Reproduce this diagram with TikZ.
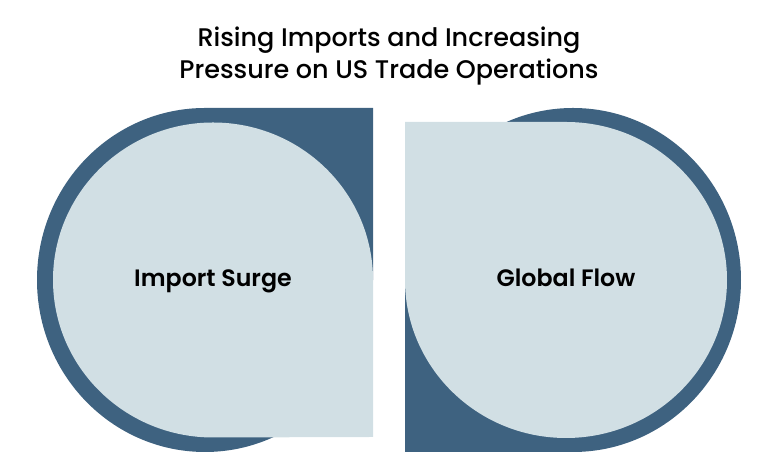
\documentclass[tikz,border=0pt]{standalone}
\usepackage{fontspec}
\setmainfont{Poppins}
\newfontfamily\medfont{Poppins Medium}
\newfontfamily\semifont{Poppins SemiBold}
\usetikzlibrary{positioning}
\definecolor{cdark}{RGB}{62,98,128}
\definecolor{clight}{RGB}{209,223,228}
\tikzset{
  outer/.style={fill=cdark,draw=none},
  inner/.style={fill=clight,draw=none},
  droplab/.style={font=\semifont\fontsize{13.5}{16}\selectfont,text=black,anchor=base},
  headline/.style={font=\medfont\fontsize{14.5}{18.7}\selectfont,align=center,text=black}
}
\begin{document}
\begin{tikzpicture}[x=0.02cm,y=0.02cm]
  \useasboundingbox (0,0) rectangle (779,472);
  \node[headline] (title) at (389,416) {Rising Imports and Increasing\\Pressure on US Trade Operations};
  % import side: outer drop squared top right, inner drop squared bottom right
  \fill[outer] (373,364) -- (373,192) arc[start angle=0,end angle=-270,x radius=168,y radius=172] -- cycle;
  \fill[inner] (373,35) -- (373,192) arc[start angle=0,end angle=270,x radius=160,y radius=157.5] -- cycle;
  % flow side: same drops turned half round
  \fill[outer] (405,20) -- (405,192) arc[start angle=180,end angle=-90,x radius=168,y radius=172] -- cycle;
  \fill[inner] (405,350) -- (405,192) arc[start angle=180,end angle=450,x radius=161,y radius=158] -- cycle;
  \node[droplab] (surge) at (213,185) {Import Surge};
  \node[droplab] (flow) at (566,185) {Global Flow};
\end{tikzpicture}
\end{document}
